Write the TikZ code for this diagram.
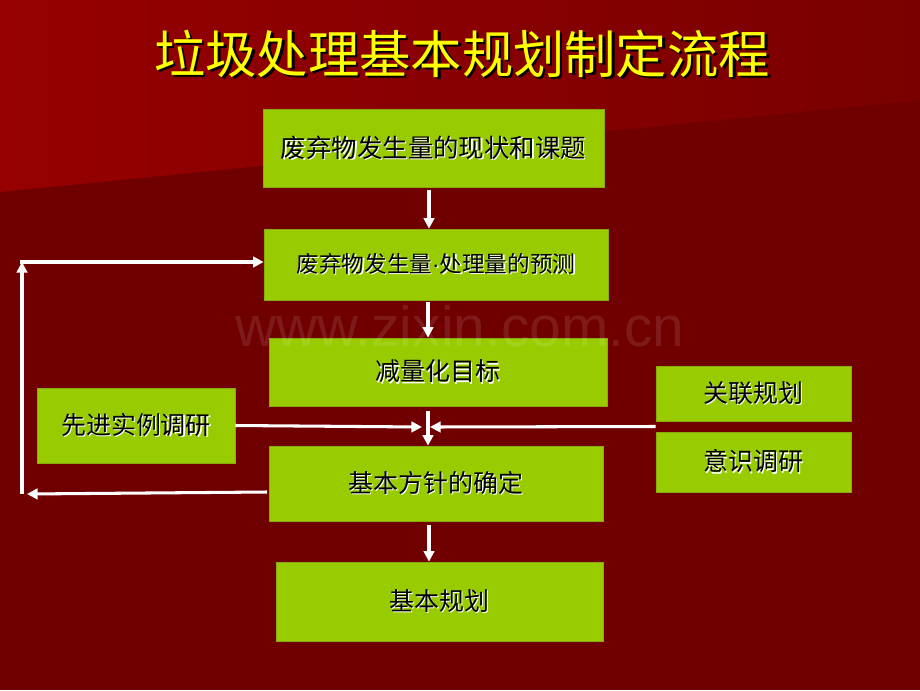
\documentclass[tikz,border=0pt]{standalone}
\usepackage{fontspec}
\newfontfamily\cjk{Noto Sans CJK SC}
\newfontfamily\wmfont{Liberation Sans}
\usetikzlibrary{arrows.meta,calc}
\definecolor{bgdark}{HTML}{700000}
\definecolor{bgtopL}{HTML}{960000}
\definecolor{bgtopR}{HTML}{7A0000}
\definecolor{boxgreen}{HTML}{99CC00}
\definecolor{boxedge}{HTML}{8AAA10}
\definecolor{titley}{HTML}{FFFF00}
\newcommand{\shtxt}[3]{\leavevmode\rlap{\kern#3\raisebox{-#3}{\color{#2}#1}}{#1}}
\newcommand{\mdot}{{\wmfont\char"00B7}}
\begin{document}
\begin{tikzpicture}[x=0.03cm,y=-0.03cm,
  box/.style={fill=boxgreen, draw=boxedge, line width=0.6pt, inner sep=0pt, font=\cjk, text=black},
  arr/.style={draw=white, line width=2.6pt, -{Triangle[length=9pt,width=9pt]}}]
% background
\fill[bgdark] (0,0) rectangle (920,690);
\shade[left color=bgtopL, right color=bgtopR] (0,0) -- (920,0) -- (920,100) -- (0,192) -- cycle;
\useasboundingbox (0,0) rectangle (920,690);
% title
\node[font=\cjk\fontsize{43.8}{48}\selectfont, text=titley] (title) at (462,55) {\shtxt{垃圾处理基本规划制定流程}{black}{2.2pt}};
% boxes
\node[box, minimum width=341*0.03cm, minimum height=78*0.03cm] (b1) at (433.5,148) {\fontsize{21.7}{26}\selectfont\shtxt{废弃物发生量的现状和课题}{white}{1.1pt}};
\node[box, minimum width=344*0.03cm, minimum height=71*0.03cm] (b2) at (436,264.5) {\fontsize{19.3}{22}\selectfont\shtxt{废弃物发生量\mdot 处理量的预测}{white}{1.1pt}};
\node[box, minimum width=338*0.03cm, minimum height=68*0.03cm] (b3) at (438,372) {\fontsize{21.3}{24}\selectfont\shtxt{减量化目标}{white}{1.1pt}};
\node[box, minimum width=198*0.03cm, minimum height=75*0.03cm] (b4) at (136,425.5) {\fontsize{21.3}{24}\selectfont\shtxt{先进实例调研}{white}{1.1pt}};
\node[box, minimum width=334*0.03cm, minimum height=75*0.03cm] (b5) at (436,483.5) {\fontsize{21.3}{24}\selectfont\shtxt{基本方针的确定}{white}{1.1pt}};
\node[box, minimum width=327*0.03cm, minimum height=79*0.03cm] (b6) at (439.5,601.5) {\fontsize{21.3}{24}\selectfont\shtxt{基本规划}{white}{1.1pt}};
\node[box, minimum width=195*0.03cm, minimum height=55*0.03cm] (b7) at (753.5,393.5) {\fontsize{21.3}{24}\selectfont\shtxt{关联规划}{white}{1.1pt}};
\node[box, minimum width=195*0.03cm, minimum height=60*0.03cm] (b8) at (753.5,462) {\fontsize{21.3}{24}\selectfont\shtxt{意识调研}{white}{1.1pt}};
% helper coordinates
\coordinate (spine) at (429,0);
\coordinate (spineb) at (428,0);
\coordinate (jl) at (422,427);
\coordinate (jr) at (430,427);
\coordinate (rs) at ($(b7.south west)!0.5!(b8.north west)$);
\coordinate (lb) at (22,494);
\coordinate (lt) at (22,262);
\coordinate (b5l) at (267,492);
% connectors
\draw[arr, shorten <=2pt] (b1.south -| spine) -- (b2.north -| spine);
\draw[arr, shorten <=1pt] (b2.south -| spineb) -- (b3.north -| spineb);
\draw[arr, shorten <=5*0.03cm] (b3.south -| spineb) -- (b5.north -| spineb);
\draw[arr, shorten <=4*0.03cm] (b5.south -| spine) -- (b6.north -| spine);
\draw[arr] (b4.east) -- (jl);
\draw[arr] (rs) -- (jr);
\draw[arr] (b5l) -- ([xshift=5*0.03cm]lb);
\draw[arr] (lb) -- (lt);
\draw[arr] ([xshift=-1.3pt]lt) -- (b2.west |- lt);
% watermark
\node[font=\wmfont\fontsize{48.5}{50}\selectfont, text=white, text opacity=0.1] (wm) at (460,326) {www.zixin.com.cn};
\end{tikzpicture}
\end{document}
